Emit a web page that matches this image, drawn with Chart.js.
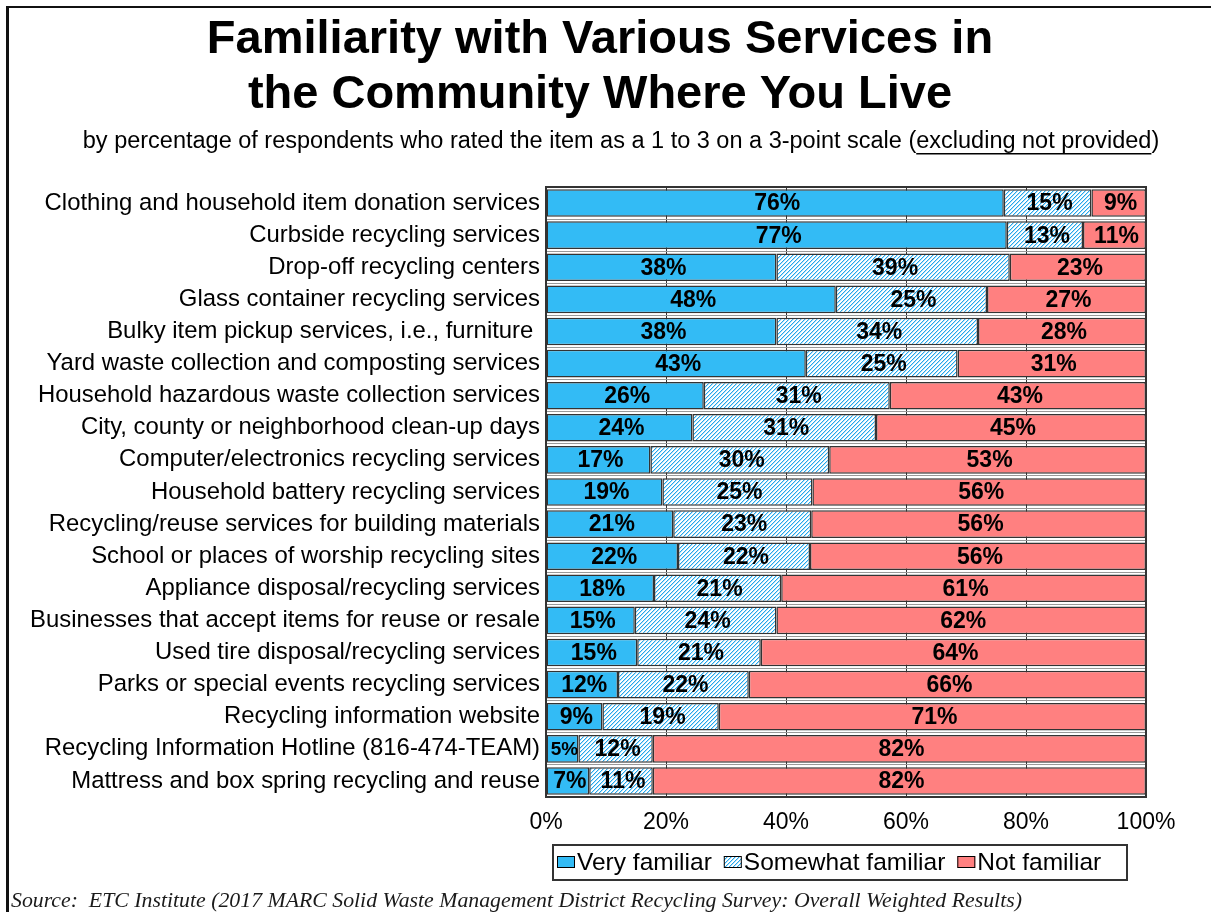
<!DOCTYPE html>
<html>
<head>
<meta charset="utf-8">
<title>Familiarity with Various Services</title>
<script src="https://cdn.jsdelivr.net/npm/chart.js@4.4.1/dist/chart.umd.min.js"></script>
<style>
    html, body { margin: 0; padding: 0; background: #fff; }
    #wrap { position: relative; width: 1211px; height: 912px; }
</style>
</head>
<body>
<div id="wrap"><canvas id="chart"></canvas></div>
<script>
const categories = [
    'Clothing and household item donation services',
    'Curbside recycling services',
    'Drop-off recycling centers',
    'Glass container recycling services',
    'Bulky item pickup services, i.e., furniture ',
    'Yard waste collection and composting services',
    'Household hazardous waste collection services',
    'City, county or neighborhood clean-up days',
    'Computer/electronics recycling services',
    'Household battery recycling services',
    'Recycling/reuse services for building materials',
    'School or places of worship recycling sites',
    'Appliance disposal/recycling services',
    'Businesses that accept items for reuse or resale',
    'Used tire disposal/recycling services',
    'Parks or special events recycling services',
    'Recycling information website',
    'Recycling Information Hotline (816-474-TEAM)',
    'Mattress and box spring recycling and reuse'
];
const veryFamiliar =     [76.3, 76.8, 38.4, 48.3, 38.4, 43.3, 26.3, 24.4, 17.4, 19.4, 21.2, 22.0, 18.0, 14.8, 15.2, 12.0, 9.4, 5.4, 7.2];
const somewhatFamiliar = [14.6, 12.7, 38.9, 25.2, 33.6, 25.3, 31.0, 30.6, 29.8, 25.0, 23.0, 22.0, 21.2, 23.6, 20.6, 21.8, 19.4, 12.4, 10.6];
const notFamiliar =      [9.1, 10.5, 22.7, 26.5, 28.0, 31.4, 42.7, 45.0, 52.8, 55.6, 55.8, 56.0, 60.8, 61.6, 64.2, 66.2, 71.2, 82.2, 82.2];
const seriesNames = ['Very familiar', 'Somewhat familiar', 'Not familiar'];
const titleLines = ['Familiarity with Various Services in', 'the Community Where You Live'];
const subtitleParts = ['by percentage of respondents who rated the item as a 1 to 3 on a 3-point scale (', 'excluding not provided', ')'];
const sourceText = 'Source:  ETC Institute (2017 MARC Solid Waste Management District Recycling Survey: Overall Weighted Results)';

const FONT = "'Liberation Sans', Arial, sans-serif";
const BLUE = '#33BBF5';
const RED = '#FF8080';
const EDGE = '#333333';

const canvas = document.getElementById('chart');
const ctx = canvas.getContext('2d');

// crisp pixel hatch: one blue diagonal every 4px, on white
function makeHatch() {
    const c = document.createElement('canvas');
    c.width = 4;
    c.height = 4;
    const g = c.getContext('2d');
    g.fillStyle = '#ffffff';
    g.fillRect(0, 0, 4, 4);
    for (let i = 0; i < 4; i++) {
        g.fillStyle = '#22A6EC';
        g.fillRect(i, 3 - i, 1, 1);
        g.fillStyle = '#B5E2F8';
        g.fillRect(i, (4 - i) % 4, 1, 1);
    }
    return ctx.createPattern(c, 'repeat');
}
const hatch = makeHatch();
const fills = [BLUE, hatch, RED];

// titles, legend, frame and data labels drawn on the canvas
const decorations = {
    id: 'decorations',
    beforeDraw(chart) {
        const c = chart.ctx;
        c.save();
        c.fillStyle = '#ffffff';
        c.fillRect(0, 0, chart.width, chart.height);
        // outer frame (top and left edges visible)
        c.fillStyle = '#111';
        c.fillRect(6, 6, chart.width - 6, 2);
        c.fillRect(6, 6, 3, chart.height - 6);

        c.fillStyle = '#000';
        c.textAlign = 'center';
        c.textBaseline = 'middle';
        c.font = 'bold 47px ' + FONT;
        c.fillText(titleLines[0], 600, 40);
        c.fillText(titleLines[1], 600, 95);

        c.font = '23.5px ' + FONT;
        c.textAlign = 'left';
        const w0 = c.measureText(subtitleParts[0]).width;
        const w1 = c.measureText(subtitleParts[1]).width;
        const w2 = c.measureText(subtitleParts[2]).width;
        let sx = 621 - (w0 + w1 + w2) / 2;
        c.fillText(subtitleParts[0], sx, 142);
        c.fillText(subtitleParts[1], sx + w0, 142);
        c.fillText(subtitleParts[2], sx + w0 + w1, 142);
        c.fillRect(sx + w0, 153, w1, 1.5);

        c.font = 'italic 21.8px "Liberation Serif", "Times New Roman", serif';
        c.fillStyle = '#1a1a1a';
        c.textBaseline = 'alphabetic';
        c.fillText(sourceText, 11, 907);
        c.restore();
    },
    afterDatasetsDraw(chart) {
        const c = chart.ctx;
        const area = chart.chartArea;
        c.save();
        // data labels
        c.fillStyle = '#000';
        c.textAlign = 'center';
        c.textBaseline = 'middle';
        chart.data.datasets.forEach((ds, di) => {
            const meta = chart.getDatasetMeta(di);
            meta.data.forEach((bar, i) => {
                const txt = Math.round(ds.data[i]) + '%';
                const w = Math.abs(bar.x - bar.base);
                let size = 23;
                c.font = 'bold ' + size + 'px ' + FONT;
                while (c.measureText(txt).width > w - 4 && size > 8) {
                    size--;
                    c.font = 'bold ' + size + 'px ' + FONT;
                }
                c.fillText(txt, (bar.x + bar.base) / 2 + 2, bar.y + 1);
            });
        });
        // plot area border
        c.strokeStyle = EDGE;
        c.lineWidth = 2;
        c.strokeRect(area.left, area.top, area.right - area.left, area.bottom - area.top);

        // legend
        c.strokeStyle = '#333';
        c.lineWidth = 2;
        c.strokeRect(553, 845, 574, 35);
        c.font = '24.5px ' + FONT;
        c.textAlign = 'left';
        let x = 557;
        seriesNames.forEach((name, i) => {
            c.fillStyle = fills[i];
            c.fillRect(x, 856, 18, 12);
            c.strokeStyle = '#000';
            c.lineWidth = 1;
            c.strokeRect(x + 0.5, 856.5, 17, 11);
            c.fillStyle = '#000';
            c.fillText(name, x + 20, 863);
            x += 20 + c.measureText(name).width + 12;
        });
        c.restore();
    }
};

const chart = new Chart(ctx, {
    type: 'bar',
    data: {
        labels: categories,
        datasets: [
            { label: seriesNames[0], data: veryFamiliar, backgroundColor: BLUE },
            { label: seriesNames[1], data: somewhatFamiliar, backgroundColor: hatch },
            { label: seriesNames[2], data: notFamiliar, backgroundColor: RED }
        ].map(ds => Object.assign(ds, {
            borderColor: EDGE,
            borderWidth: 1.5,
            borderSkipped: false,
            barPercentage: 0.86,
            categoryPercentage: 1
        }))
    },
    options: {
        indexAxis: 'y',
        responsive: true,
        maintainAspectRatio: false,
        animation: false,
        layout: { padding: { top: 187, right: 65, bottom: 0, left: 0 } },
        plugins: {
            legend: { display: false },
            title: { display: false },
            tooltip: { enabled: false }
        },
        scales: {
            x: {
                stacked: true,
                min: 0,
                max: 100,
                ticks: {
                    stepSize: 20,
                    callback: v => v + '%',
                    color: '#000',
                    font: { family: FONT, size: 23 },
                    padding: 12,
                    maxRotation: 0
                },
                grid: { color: '#333', lineWidth: 1, drawTicks: false },
                border: { display: false },
                afterFit: s => { s.height = 115; }
            },
            y: {
                stacked: true,
                ticks: {
                    color: '#000',
                    font: { family: FONT, size: 23.9 },
                    padding: 6,
                    autoSkip: false
                },
                grid: { offset: true, color: '#999', drawTicks: false },
                border: { display: false },
                afterFit: s => { s.width = 546; }
            }
        }
    },
    plugins: [decorations]
});
</script>
</body>
</html>
